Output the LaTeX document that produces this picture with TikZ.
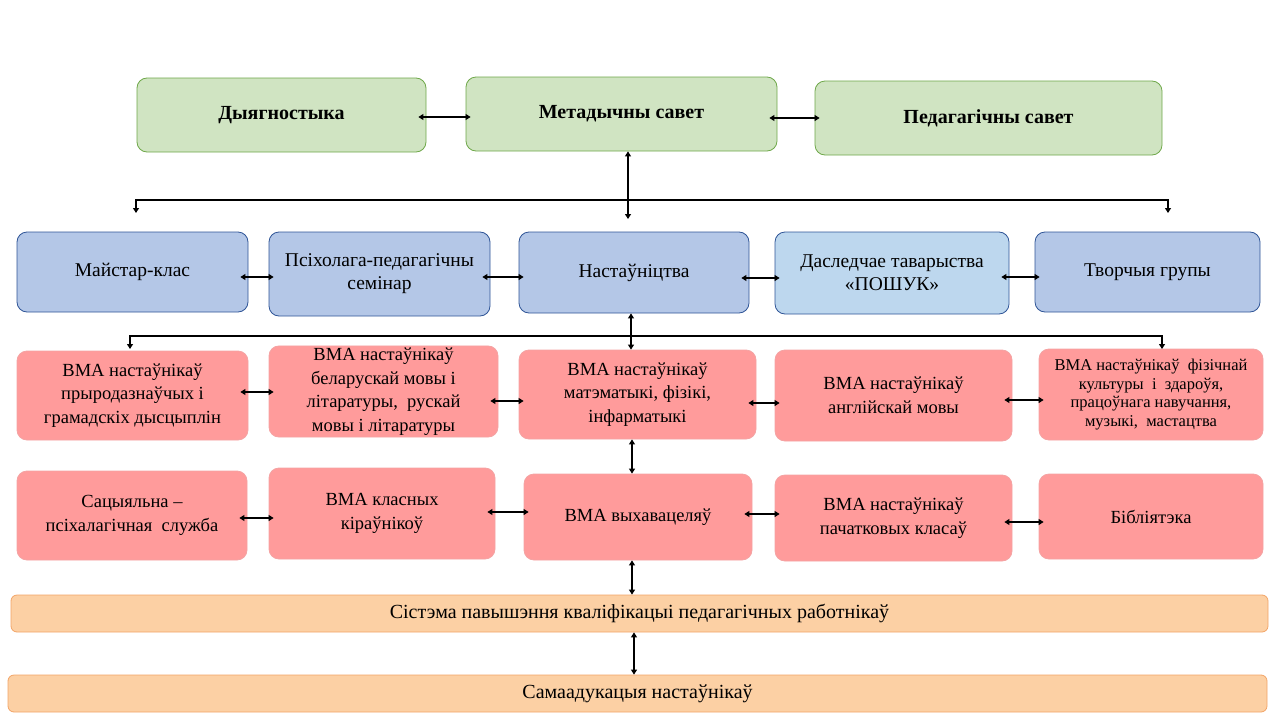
\documentclass[tikz,border=0pt]{standalone}
\usepackage{fontspec}
\setmainfont{Liberation Serif}
\usetikzlibrary{arrows.meta,calc}
\definecolor{gfill}{HTML}{D0E4C2}
\definecolor{gline}{HTML}{6FA84A}
\definecolor{bfill}{HTML}{B4C7E7}
\definecolor{bline}{HTML}{2F5597}
\definecolor{lbfill}{HTML}{BDD7EE}
\definecolor{pfill}{HTML}{FF9B9B}
\definecolor{pline}{HTML}{F4A3A3}
\definecolor{ofill}{HTML}{FCD0A4}
\definecolor{oline}{HTML}{F2A467}
\tikzset{
  box/.style={rectangle, rounded corners=10pt, align=center, inner sep=2pt, line width=0.8pt},
  gbox/.style={box, fill=gfill, draw=gline, font=\fontsize{20}{24}\selectfont\bfseries},
  bbox/.style={box, fill=bfill, draw=bline, font=\fontsize{19.5}{23}\selectfont},
  lbbox/.style={box, fill=lbfill, draw=bline, font=\fontsize{19.5}{23}\selectfont},
  pbox/.style={box, fill=pfill, draw=pline, font=\fontsize{18.5}{23.5}\selectfont},
  psmall/.style={box, fill=pfill, draw=pline, font=\fontsize{16.5}{18.5}\selectfont},
  obox/.style={box, rounded corners=6pt, fill=ofill, draw=oline, font=\fontsize{20}{22}\selectfont},
  arr/.style={line width=1.1pt, {Triangle[length=5pt,width=6pt]}-{Triangle[length=5pt,width=6pt]}},
  bus/.style={line width=1.1pt, {Triangle[length=5pt,width=6pt]}-{Triangle[length=5pt,width=6pt]}}
}
\newcommand\hlink[3]{\draw[arr] ($(#1.east|-0,#3)+(-8,0)$) -- ($(#2.west|-0,#3)+(5,0)$);}
\begin{document}
\begin{tikzpicture}[x=1pt,y=-1pt]
\useasboundingbox (0,0) rectangle (1280,720);
% top row
\node[gbox, minimum width=289pt, minimum height=74pt] (diag) at (281.5,115) {Дыягностыка};
\node[gbox, minimum width=311pt, minimum height=74pt] (met) at (621.5,114) {Метадычны савет};
\node[gbox, minimum width=347pt, minimum height=74pt] (ped) at (988.5,118) {Педагагічны савет};
% blue row
\node[bbox, minimum width=231pt, minimum height=80pt] (mk) at (132.5,272) {Майстар-клас};
\node[bbox, minimum width=221pt, minimum height=84pt] (psi) at (379.5,274) {Псіхолага-педагагічны\\семінар};
\node[bbox, minimum width=230pt, minimum height=81pt] (nas) at (634,272.5) {Настаўніцтва};
\node[lbbox, minimum width=234pt, minimum height=82pt] (dasl) at (892,273) {Даследчае таварыства\\«ПОШУК»};
\node[bbox, minimum width=225pt, minimum height=80pt] (tvor) at (1147.5,272) {Творчыя групы};
% pink row 1
\node[pbox, minimum width=231pt, minimum height=89pt] (p1) at (132.5,395.5) {ВМА настаўнікаў\\прыродазнаўчых і\\грамадскіх дысцыплін};
\node[pbox, minimum width=229pt, minimum height=89pt] (p2) at (383.5,391.5) {ВМА настаўнікаў\\беларускай мовы і\\літаратуры,\ \ рускай\\мовы і літаратуры};
\node[pbox, minimum width=237pt, minimum height=89pt] (p3) at (637.5,394.5) {ВМА настаўнікаў\\матэматыкі, фізікі,\\інфарматыкі};
\node[pbox, minimum width=237pt, minimum height=91pt] (p4) at (893.5,395.5) {ВМА настаўнікаў\\англійскай мовы};
\node[psmall, minimum width=224pt, minimum height=91pt] (p5) at (1151,394.5) {ВМА настаўнікаў\ \ фізічнай\\культуры\ \ і\ \ здароўя,\\працоўнага навучання,\\музыкі,\ \ мастацтва};
% pink row 2
\node[pbox, minimum width=230pt, minimum height=89pt] (q1) at (132,515.5) {Сацыяльна –\\псіхалагічная\ \ служба};
\node[pbox, minimum width=226pt, minimum height=91pt] (q2) at (382,513.5) {ВМА класных\\кіраўнікоў};
\node[pbox, minimum width=228pt, minimum height=86pt] (q3) at (638,517) {ВМА выхавацеляў};
\node[pbox, minimum width=237pt, minimum height=86pt] (q4) at (893.5,518) {ВМА настаўнікаў\\пачатковых класаў};
\node[pbox, minimum width=224pt, minimum height=85pt] (q5) at (1151,516.5) {Бібліятэка};
% orange bars
\node[obox, minimum width=1257pt, minimum height=37pt] (o1) at (639.5,613.5) {Сістэма павышэння кваліфікацыі педагагічных работнікаў};
\node[obox, minimum width=1259pt, minimum height=37pt] (o2) at (637.5,693.5) {Самаадукацыя настаўнікаў};
% horizontal links
\hlink{diag}{met}{117}
\hlink{met}{ped}{118}
\hlink{mk}{psi}{277}
\hlink{psi}{nas}{277}
\hlink{nas}{dasl}{278}
\hlink{dasl}{tvor}{277}
\hlink{p1}{p2}{392}
\hlink{p2}{p3}{401}
\hlink{p3}{p4}{403}
\hlink{p4}{p5}{400}
\hlink{q1}{q2}{518}
\hlink{q2}{q3}{512}
\hlink{q3}{q4}{514}
\hlink{q4}{q5}{522}
% distribution buses
\coordinate (b1l) at (136,213);
\coordinate (b1r) at (1168,213);
\coordinate (b1m) at (628,219);
\draw[bus] (b1l) -- (b1l |- 0,200) -- (b1r |- 0,200) -- (b1r);
\draw[arr] (met.south -| b1m) -- (b1m);
\coordinate (b2l) at (130,349);
\coordinate (b2r) at (1162,349);
\draw[bus] (b2l) -- (b2l |- 0,336) -- (b2r |- 0,336) -- (b2r);
\draw[arr] (nas.south -| 631,0) -- (p3.north -| 631,0);
% vertical links
\draw[arr] (p3.south -| 632,0) -- (q3.north -| 632,0);
\draw[arr] (q3.south -| 632,0) -- (o1.north -| 632,0);
\draw[arr] (o1.south -| 634,0) -- (o2.north -| 634,0);
\end{tikzpicture}
\end{document}
